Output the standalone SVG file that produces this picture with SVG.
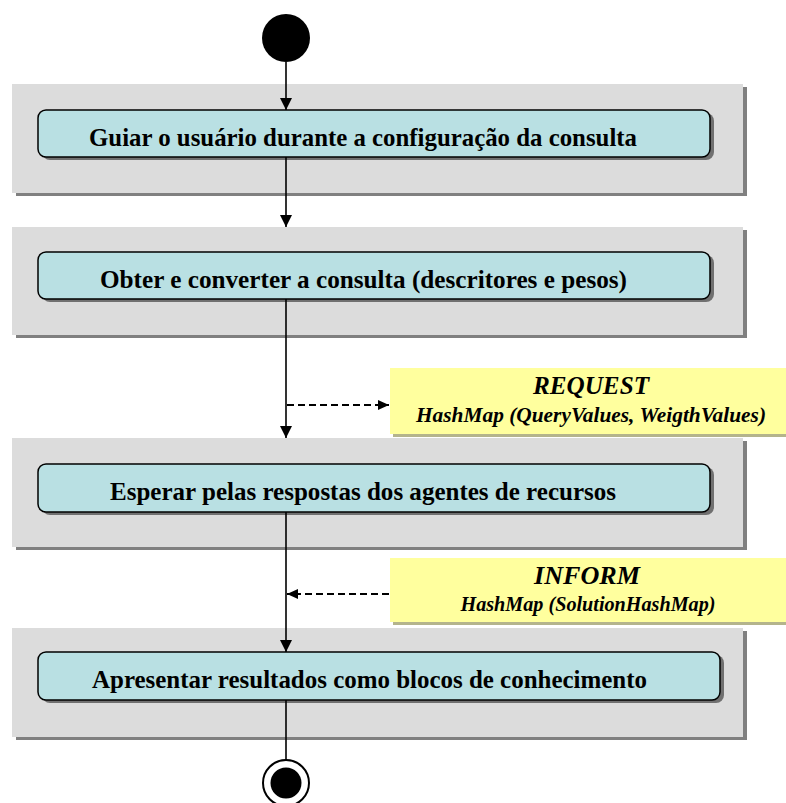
<svg xmlns="http://www.w3.org/2000/svg" width="786" height="803" viewBox="0 0 786 803">
<style>
.panel{fill:#dcdcdc;}
.pshadow{fill:#808080;}
.box{fill:#b9e0e3;stroke:#000;stroke-width:1.5;}
.bshadow{fill:#707070;}
.note{fill:#ffff9e;}
.nshadow{fill:#b4b48c;}
.lbl{font-family:"Liberation Serif","Times New Roman",serif;font-weight:bold;font-size:26px;fill:#000;}
.nt{font-family:"Liberation Serif","Times New Roman",serif;font-weight:bold;font-style:italic;fill:#000;text-anchor:middle;}
.flow{stroke:#000;stroke-width:1.6;fill:none;}
.msg{stroke:#000;stroke-width:2;fill:none;stroke-dasharray:7,4;}
</style>
<defs>
<marker id="arr" markerUnits="userSpaceOnUse" markerWidth="12" markerHeight="12" refX="12" refY="6" orient="auto">
<path d="M0,0 L12,6 L0,12 z" fill="#000"/>
</marker>
<marker id="arr2" markerUnits="userSpaceOnUse" markerWidth="11" markerHeight="10" refX="11" refY="5" orient="auto">
<path d="M0,0 L11,5 L0,10 z" fill="#000"/>
</marker>
</defs>
<rect width="786" height="803" fill="#ffffff"/>

<g id="start">
<circle cx="286" cy="38" r="24" fill="#000"/>
</g>

<g id="panel1">
<rect class="pshadow" x="16" y="87" width="731" height="109"/>
<rect class="panel" x="12" y="84" width="731" height="109"/>
<rect class="bshadow" x="42" y="113" width="672" height="47" rx="8"/>
<rect class="box" x="38" y="110" width="672" height="47" rx="8"/>
<text class="lbl" x="89" y="146" textLength="548" lengthAdjust="spacingAndGlyphs">Guiar o usuário durante a configuração da consulta</text>
</g>

<g id="panel2">
<rect class="pshadow" x="16" y="230" width="731" height="108"/>
<rect class="panel" x="12" y="227" width="731" height="108"/>
<rect class="bshadow" x="42" y="255" width="672" height="47" rx="8"/>
<rect class="box" x="38" y="252" width="672" height="47" rx="8"/>
<text class="lbl" x="100" y="288" textLength="527" lengthAdjust="spacingAndGlyphs">Obter e converter a consulta (descritores e pesos)</text>
</g>

<g id="panel3">
<rect class="pshadow" x="16" y="441" width="731" height="109"/>
<rect class="panel" x="12" y="438" width="731" height="109"/>
<rect class="bshadow" x="42" y="467" width="672" height="48" rx="8"/>
<rect class="box" x="38" y="464" width="672" height="48" rx="8"/>
<text class="lbl" x="110" y="500" textLength="506" lengthAdjust="spacingAndGlyphs">Esperar pelas respostas dos agentes de recursos</text>
</g>

<g id="panel4">
<rect class="pshadow" x="16" y="631" width="731" height="109"/>
<rect class="panel" x="12" y="628" width="731" height="109"/>
<rect class="bshadow" x="42" y="655" width="682" height="48" rx="8"/>
<rect class="box" x="38" y="652" width="682" height="48" rx="8"/>
<text class="lbl" x="92" y="688" textLength="555" lengthAdjust="spacingAndGlyphs">Apresentar resultados como blocos de conhecimento</text>
</g>

<g id="note-request">
<rect class="nshadow" x="393" y="371" width="400" height="66"/>
<rect class="note" x="390" y="368" width="400" height="66"/>
<text class="nt" x="591" y="394" font-size="26" textLength="116" lengthAdjust="spacingAndGlyphs">REQUEST</text>
<text class="nt" x="591" y="422" font-size="21" textLength="350" lengthAdjust="spacingAndGlyphs">HashMap (QueryValues, WeigthValues)</text>
</g>

<g id="note-inform">
<rect class="nshadow" x="393" y="561" width="400" height="64"/>
<rect class="note" x="390" y="558" width="400" height="64"/>
<text class="nt" x="587" y="584" font-size="26" textLength="106" lengthAdjust="spacingAndGlyphs">INFORM</text>
<text class="nt" x="588" y="611" font-size="21" textLength="255" lengthAdjust="spacingAndGlyphs">HashMap (SolutionHashMap)</text>
</g>

<g id="end">
<circle cx="286" cy="783" r="23" fill="#fff" stroke="#000" stroke-width="2"/>
<circle cx="286" cy="783" r="15.5" fill="#000"/>
</g>

<g id="connectors">
<line class="flow" x1="286" y1="62" x2="286" y2="110" marker-end="url(#arr)"/>
<line class="flow" x1="286" y1="157" x2="286" y2="227" marker-end="url(#arr)"/>
<line class="flow" x1="286" y1="299" x2="286" y2="438" marker-end="url(#arr)"/>
<line class="flow" x1="286" y1="512" x2="286" y2="652" marker-end="url(#arr)"/>
<line class="flow" x1="286" y1="700" x2="286" y2="760"/>
<line class="msg" x1="287" y1="405" x2="389" y2="405" marker-end="url(#arr2)"/>
<line class="msg" x1="389" y1="594" x2="287" y2="594" marker-end="url(#arr2)"/>
</g>
</svg>
